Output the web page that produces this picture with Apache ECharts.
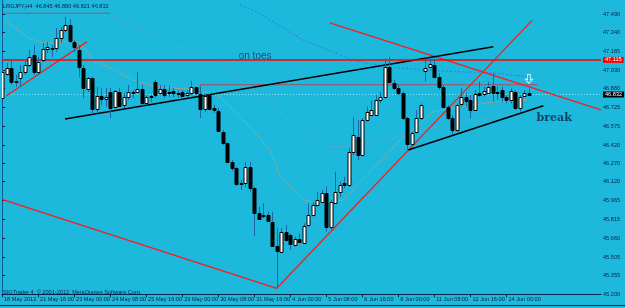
<!DOCTYPE html>
<html><head><meta charset="utf-8">
<script src="https://cdn.jsdelivr.net/npm/echarts@6/dist/echarts.min.js"></script>
<style>html,body{margin:0;padding:0;background:#1db9dd;}#c{width:625px;height:308px;}</style>
</head><body><div id="c"></div>
<script>
// ---- data ----
const symbolTitle = 'LRDJPY,H4  46.845 46.880 46.821 46.832';
const copyright = 'SIGTrader 4, \u00a9 2001-2012, MetaQuotes Software Corp.';
const tradingDays = ['18 May','21 May','22 May','23 May','24 May','25 May','28 May','29 May','30 May','31 May','1 Jun','4 Jun','5 Jun','6 Jun','7 Jun','8 Jun','11 Jun','12 Jun','13 Jun','14 Jun'];
const sessionHours = ['00:00','04:00','08:00','12:00','16:00','20:00'];
const firstDayStartHour = 2; // first bar: 18 May 08:00
const futureSlots = 16;       // empty chart-shift space on the right
const xTickLabels = ['18 May 2012','21 May 16:00','23 May 00:00','24 May 08:00','25 May 16:00','29 May 00:00','30 May 08:00','31 May 16:00','4 Jun 00:00','5 Jun 08:00','6 Jun 16:00','8 Jun 00:00','11 Jun 08:00','12 Jun 16:00','14 Jun 00:00'];
const yTickLabels = ['47.490','47.340','47.185','47.030','46.880','46.725','46.575','46.420','46.270','46.120','45.965','45.815','45.660','45.505','45.355','45.200'];

const open = [46.804,47.000,47.049,46.945,46.967,47.016,47.073,47.155,47.016,47.114,
47.204,47.212,47.212,47.294,47.359,47.400,47.261,47.196,47.049,46.877,
46.967,46.714,46.820,46.796,46.853,46.730,46.853,46.747,46.812,46.853,
46.853,46.877,46.763,46.812,46.934,46.845,46.877,46.845,46.861,46.836,
46.853,46.828,46.845,46.894,46.836,46.714,46.828,46.722,46.698,46.526,
46.436,46.281,46.232,46.113,46.107,46.242,46.066,45.862,45.836,45.848,
45.793,45.597,45.548,45.711,45.684,45.603,45.649,45.622,45.766,45.848,
45.930,45.956,46.025,45.747,45.948,46.038,46.107,46.093,46.365,46.488,
46.338,46.624,46.665,46.665,46.787,46.809,47.055,46.929,46.888,46.842,
46.638,46.428,46.528,46.638,47.027,47.059,47.073,46.978,46.896,46.733,
46.638,46.542,46.755,46.809,46.787,46.706,46.842,46.836,46.847,46.902,
46.855,46.869,46.809,46.787,46.855,46.720,46.820,46.845];
const close = [47.016,47.049,46.934,46.934,47.016,47.073,47.139,47.016,47.098,47.204,
47.220,47.204,47.294,47.359,47.400,47.270,47.220,47.057,46.885,46.967,
46.714,46.820,46.796,46.812,46.722,46.861,46.738,46.812,46.853,46.845,
46.877,46.763,46.812,46.820,46.828,46.877,46.828,46.853,46.845,46.845,
46.820,46.845,46.894,46.845,46.714,46.820,46.714,46.706,46.534,46.436,
46.281,46.232,46.101,46.105,46.242,46.066,45.862,45.813,45.844,45.801,
45.597,45.554,45.711,45.644,45.611,45.649,45.625,45.760,45.848,45.930,
45.970,46.025,45.747,45.956,46.038,46.093,46.093,46.365,46.501,46.338,
46.624,46.692,46.706,46.787,46.809,47.055,46.937,46.883,46.847,46.638,
46.428,46.520,46.638,46.747,47.046,47.082,46.978,46.896,46.733,46.638,
46.542,46.747,46.809,46.782,46.706,46.836,46.828,46.863,46.891,46.847,
46.842,46.809,46.787,46.863,46.720,46.814,46.842,46.832];
const high = [47.049,47.090,47.114,46.992,47.073,47.114,47.196,47.237,47.139,47.253,
47.261,47.237,47.376,47.384,47.466,47.449,47.278,47.237,47.073,46.975,
46.975,46.894,46.885,46.885,46.885,46.869,46.885,46.845,46.910,46.869,
47.016,46.910,46.828,46.828,46.951,46.910,46.910,46.902,46.885,46.869,
46.869,46.869,46.943,46.894,46.894,46.828,46.836,46.747,46.722,46.542,
46.444,46.297,46.242,46.134,46.281,46.283,46.079,45.916,45.943,45.875,
45.875,45.739,45.742,45.766,45.698,45.670,45.698,45.780,45.943,45.956,
46.038,46.052,46.079,45.970,46.202,46.120,46.161,46.393,46.651,46.624,
46.638,46.733,46.787,46.828,46.855,47.128,47.141,46.951,46.910,46.855,
46.651,46.528,46.706,46.760,47.128,47.128,47.128,47.006,46.910,46.747,
46.665,46.760,46.883,46.842,46.828,46.869,46.937,46.896,46.937,47.006,
46.896,46.896,46.828,46.883,46.869,46.828,46.869,46.880];
const low = [46.796,46.984,46.910,46.894,46.894,46.992,47.057,46.992,46.992,47.098,
47.171,47.139,47.180,47.253,47.343,47.253,47.180,46.975,46.804,46.853,
46.673,46.681,46.747,46.730,46.640,46.722,46.730,46.722,46.787,46.804,
46.845,46.730,46.747,46.771,46.804,46.828,46.804,46.812,46.812,46.804,
46.812,46.812,46.828,46.828,46.640,46.689,46.706,46.681,46.526,46.420,
46.273,46.207,46.085,46.052,46.077,46.038,45.676,45.807,45.821,45.793,
45.589,45.249,45.537,45.630,45.562,45.589,45.617,45.617,45.752,45.834,
45.916,45.943,45.711,45.725,45.943,45.997,46.066,46.079,46.338,46.297,
46.324,46.610,46.651,46.657,46.760,46.801,46.924,46.869,46.828,46.624,
46.379,46.406,46.515,46.624,46.937,47.046,46.965,46.869,46.720,46.624,
46.501,46.528,46.733,46.733,46.638,46.700,46.814,46.814,46.836,46.774,
46.787,46.774,46.760,46.760,46.706,46.692,46.814,46.821];

// moving averages, read as [bar, price]
const maFast = [[0.7,47.441],[5.5,47.302],[9.1,47.253],[12.2,47.253],[15.1,47.270],[17.3,47.253],[20.2,47.114],[24,47.049],[29.1,46.951],[33.5,46.902],[38,46.885],[44,46.869],[48.4,46.812],[51.3,46.706],[55.7,46.542],[59.5,46.379],[61.7,46.175],[66.8,45.970],[70.6,45.946],[75.7,45.970],[81.7,46.199],[88.4,46.461],[92.1,46.567],[95.7,46.689],[101.7,46.730],[109,46.771],[116.6,46.787]];
const maMid = [[20.6,47.547],[22.4,47.482],[32.9,47.335],[47.7,47.090],[57.3,46.814],[64.6,46.599],[72.2,46.406],[79.5,46.406],[85.5,46.461],[90.6,46.518],[97.2,46.569],[105.5,46.624],[116.6,46.692]];
const maSlow = [[52.8,47.564],[55.7,47.523],[59.5,47.441],[66.8,47.278],[77.9,47.114],[85.5,47.057],[97.2,47.024],[109,47.008],[117.2,46.975]];

// drawn objects [bar, price]
const redRiseLeft = [[0.9,46.820],[18.9,47.264]];
const redLevel = [[0,47.115],[133,47.115]];
const redFallLow = [[0,45.976],[61,45.249]];
const redRiseLow = [[61,45.249],[117.7,47.438]];
const redFallTop = [[72.8,47.417],[133,46.707]];
const blackUpper = [[14,46.632],[109.1,47.223]];
const blackLower = [[90.2,46.379],[120.2,46.741]];
const maroonTop = [[0,47.496],[24,47.496]];
const maroonBox = [[44,46.853],[44,46.912],[119,46.912]];
const bidPrice = 46.832;
const levelPrice = 47.115;
const arrowMark = [[117,46.959]];
const noteOnToes = [[56.2,47.147]];
const noteBreak = [[122.6,46.640]];

// ---- build ----
const categories = [];
tradingDays.forEach((d, di) => {
  const start = di === 0 ? firstDayStartHour : 0;
  for (let h = start; h < sessionHours.length; h++) {
    categories.push(categories.length === 0 ? d + ' 2012' : d + ' ' + sessionHours[h]);
  }
});
for (let k = 0; k < futureSlots; k++) categories.push('');
const lastIdx = categories.length - 1;
const candleRows = open.map((o, i) => [i, o, close[i], low[i], high[i]]);
const ink = '#0a2445';
const wick = '#1a66a8';
const font = 'Liberation Sans';

function lineSeries(data, color, width, type) {
  return {type:'line', xAxisIndex:1, yAxisIndex:0, data:data, symbol:'none', silent:true,
    lineStyle:{color:color, width:width, type:type||'solid'}, z:3, clip:true};
}

const chart = echarts.init(document.getElementById('c'), null, {renderer:'canvas'});
chart.setOption({
  animation:false,
  backgroundColor:'#1db9dd',
  textStyle:{fontFamily:font},
  grid:{left:2, right:24, top:1, bottom:13.7},
  xAxis:[{
    type:'category', data:categories, boundaryGap:false,
    axisLine:{show:true, lineStyle:{color:ink, width:1}},
    axisTick:{show:true, length:3, interval:(i,v)=>xTickLabels.includes(v), lineStyle:{color:ink}},
    axisLabel:{show:true, interval:(i,v)=>xTickLabels.includes(v), align:'left', margin:2, padding:[0,0,0,2],
      fontSize:5.6, color:ink, fontFamily:font},
    splitLine:{show:false}
  },{
    type:'value', min:0, max:lastIdx, show:false
  }],
  yAxis:[{
    type:'value', position:'right', min:45.2, max:47.596, scale:true,
    axisLine:{show:true, lineStyle:{color:ink}},
    axisTick:{show:true, length:3, customValues:yTickLabels.map(Number), lineStyle:{color:ink}},
    axisLabel:{show:true, customValues:yTickLabels.map(Number), formatter:v=>v.toFixed(3), fontSize:5.6, color:ink, margin:2, fontFamily:font},
    splitLine:{show:false}
  },{
    type:'value', position:'left', min:45.2, max:47.596,
    axisLine:{show:true, lineStyle:{color:'#0d5a98'}}, axisTick:{show:false}, axisLabel:{show:false}, splitLine:{show:false}
  }],
  graphic:[
    {type:'text', left:3, top:3, style:{text:symbolTitle, fill:ink, fontSize:5.6, fontFamily:font}},
    {type:'text', left:3, top:289, style:{text:copyright, fill:ink, fontSize:5.6, fontFamily:font}},
    {type:'rect', shape:{x:0, y:305, width:625, height:1}, style:{fill:'#0a2a48'}}
  ],
  series:[
    lineSeries(maMid, '#6aa6c8', 1, [2,2]),
    lineSeries(maSlow, '#2b86e6', 1.2, [2,2]),
    lineSeries(maFast, '#d2a06c', 1, [1,1]),
    lineSeries(maroonTop, '#9a5a66', 1),
    lineSeries(maroonBox, '#a84a66', 1),
    {type:'line', xAxisIndex:1, yAxisIndex:0, data:[[0,bidPrice],[lastIdx,bidPrice]], symbol:'none', silent:true,
      lineStyle:{color:'#8fe6ff', width:1, type:[1,2]}, z:2,
      endLabel:{show:true, formatter:bidPrice.toFixed(3), color:'#fff', backgroundColor:'#000', padding:[0,2,0,2], fontSize:5.6, distance:2, fontFamily:font}},
    {type:'line', xAxisIndex:1, yAxisIndex:0, data:redLevel, symbol:'none', silent:true,
      lineStyle:{color:'#ff0000', width:1.5}, z:4,
      endLabel:{show:true, formatter:levelPrice.toFixed(3), color:'#fff', backgroundColor:'#ff0000', padding:[0,2,0,2], fontSize:5.6, distance:2, fontFamily:font}},
    {
      type:'custom', xAxisIndex:0, yAxisIndex:0, data:candleRows, z:5, clip:true,
      encode:{x:0, y:[1,2,3,4]},
      renderItem:function(params, api){
        const i = api.value(0), o = api.value(1), c = api.value(2), l = api.value(3), h = api.value(4);
        const pO = api.coord([i,o]), pC = api.coord([i,c]), pL = api.coord([i,l]), pH = api.coord([i,h]);
        const x = Math.round(pO[0]) + 0.5;
        const bull = c >= o;
        const top = Math.round(Math.min(pO[1], pC[1])) + 0.5;
        const bot = Math.round(Math.max(pO[1], pC[1])) + 0.5;
        return {type:'group', children:[
          {type:'line', shape:{x1:x, y1:pH[1], x2:x, y2:pL[1]}, style:{stroke:wick, lineWidth:1}},
          {type:'rect', shape:{x:x-1.5, y:top, width:3, height:Math.max(bot-top,1)},
            style:{fill:bull?'#ffffff':'#000000', stroke:'#000000', lineWidth:1}}
        ]};
      }
    },
    lineSeries(redRiseLeft, '#ff1a1a', 1.3),
    lineSeries(redFallLow, '#ff1a1a', 1.3),
    lineSeries(redRiseLow, '#ff1a1a', 1.3),
    lineSeries(redFallTop, '#ff1a1a', 1.3),
    lineSeries(blackUpper, '#000000', 1.5),
    lineSeries(blackLower, '#000000', 1.5),
    {type:'scatter', xAxisIndex:1, yAxisIndex:0, data:arrowMark, z:6, silent:true,
      symbol:'path://M3 0 H7 V6 H10 L5 11 L0 6 H3 Z', symbolSize:[7,9],
      itemStyle:{color:'rgba(0,0,0,0)', borderColor:'#ffffff', borderWidth:1}},
    {type:'scatter', xAxisIndex:1, yAxisIndex:0, data:noteOnToes, symbolSize:0, silent:true, z:6,
      label:{show:true, position:'inside', formatter:'on toes', fontSize:10, color:'#1a3560', fontFamily:font}},
    {type:'scatter', xAxisIndex:1, yAxisIndex:0, data:noteBreak, symbolSize:0, silent:true, z:6,
      label:{show:true, position:'inside', formatter:'break', fontSize:11, fontWeight:'bold', color:'#0d1f40', fontFamily:'DejaVu Serif'}}
  ]
});
</script></body></html>
